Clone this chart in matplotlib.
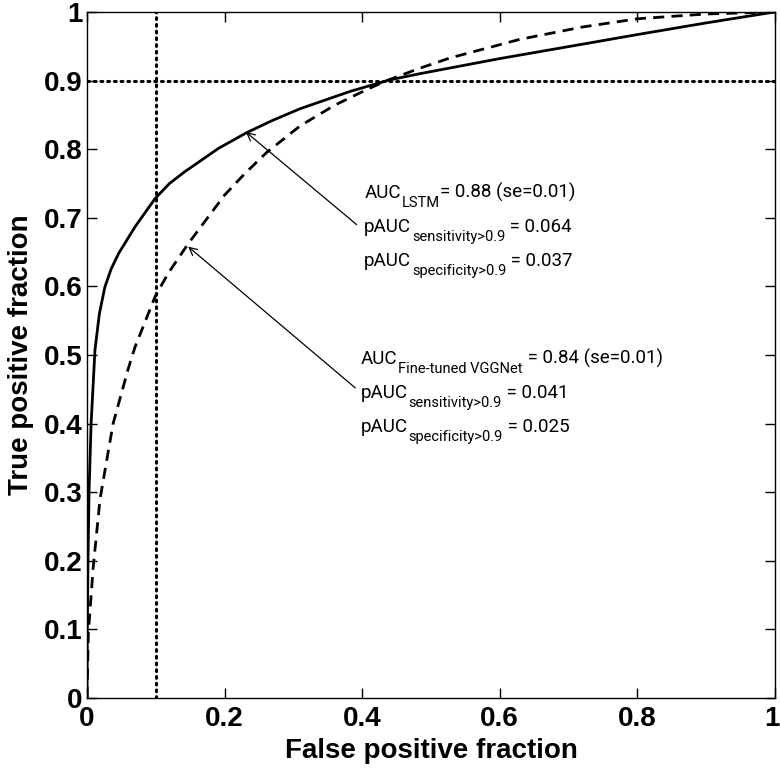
import matplotlib
matplotlib.use("Agg")
import matplotlib.pyplot as plt
import matplotlib.transforms as mtransforms
from matplotlib.transforms import IdentityTransform

# ROC points (false positive fraction, true positive fraction)
lstm_fpf = [0.0, 0.0005, 0.0015, 0.003, 0.006, 0.0116, 0.018, 0.026, 0.035, 0.046, 0.070,
            0.099, 0.12, 0.142, 0.191, 0.232, 0.27, 0.31, 0.382, 0.44, 0.484, 0.6, 0.726,
            0.8, 0.9, 1.0]
lstm_tpf = [0.0, 0.1, 0.2, 0.3, 0.40, 0.507, 0.56, 0.599, 0.625, 0.648, 0.687,
            0.728, 0.75, 0.767, 0.801, 0.824, 0.842, 0.859, 0.884, 0.901, 0.91, 0.932, 0.954,
            0.967, 0.984, 1.0]

vgg_fpf = [0.0, 0.002, 0.009, 0.019, 0.038, 0.06, 0.070, 0.099, 0.118, 0.147, 0.2,
           0.23, 0.261, 0.31, 0.36, 0.407, 0.436, 0.484, 0.528, 0.629, 0.72, 0.8,
           0.9, 1.0]
vgg_tpf = [0.0, 0.095, 0.19, 0.29, 0.40, 0.48, 0.512, 0.585, 0.619, 0.662, 0.733,
           0.765, 0.795, 0.834, 0.864, 0.887, 0.900, 0.918, 0.933, 0.960, 0.978, 0.99,
           0.997, 1.0]

cutoff_fpf = 0.1
cutoff_tpf = 0.9

xtick_labels = ['0', '0.2', '0.4', '0.6', '0.8', '1']
ytick_labels = ['0', '0.1', '0.2', '0.3', '0.4', '0.5', '0.6', '0.7', '0.8', '0.9', '1']

# each line: (main text, subscript, rest)
lstm_text = [("AUC", "LSTM", "= 0.88 (se=0.01)"),
             ("pAUC", "sensitivity>0.9", " = 0.064"),
             ("pAUC", "specificity>0.9", " = 0.037")]
vgg_text = [("AUC", "Fine-tuned VGGNet", " = 0.84 (se=0.01)"),
            ("pAUC", "sensitivity>0.9", " = 0.041"),
            ("pAUC", "specificity>0.9", " = 0.025")]

fig = plt.figure(figsize=(7.8, 7.7), dpi=100)
ax = fig.add_axes([0.1115, 0.0935, 0.882, 0.891])

ax.plot(lstm_fpf, lstm_tpf, color='black', lw=2.0, solid_joinstyle='round')
ax.plot(vgg_fpf, vgg_tpf, color='black', lw=2.0, linestyle=(0, (4, 2.6)))
ax.axvline(cutoff_fpf, color='black', lw=2.2, linestyle=(0, (0.6, 1.6)), dash_capstyle='round')
ax.axhline(cutoff_tpf, color='black', lw=2.2, linestyle=(0, (0.6, 1.6)), dash_capstyle='round')

ax.set_xlim(0, 1)
ax.set_ylim(0, 1)
ax.set_xticks([0, 0.2, 0.4, 0.6, 0.8, 1])
ax.set_xticklabels(xtick_labels)
ax.set_yticks([0, 0.1, 0.2, 0.3, 0.4, 0.5, 0.6, 0.7, 0.8, 0.9, 1])
ax.set_yticklabels(ytick_labels)
ax.tick_params(direction='in', top=True, right=True, length=7, width=1)
ax.tick_params(axis='y', pad=3)
ax.tick_params(axis='x', pad=6)
for lab in ax.get_xticklabels() + ax.get_yticklabels():
    lab.set_fontfamily('Liberation Sans')
    lab.set_fontweight('bold')
    lab.set_fontsize(20)
# keep the last x label inside the figure
last = ax.get_xticklabels()[-1]
last.set_transform(last.get_transform() + mtransforms.ScaledTranslation(-2 / 72, 0, fig.dpi_scale_trans))
for s in ax.spines.values():
    s.set_linewidth(1.0)

ax.set_xlabel("False positive fraction", fontsize=20, fontweight='bold',
              fontfamily='Liberation Sans', labelpad=4)
ax.set_ylabel("True positive fraction", fontsize=20, fontweight='bold',
              fontfamily='Liberation Sans', labelpad=7)

renderer = fig.canvas.get_renderer()


def sub_line(x, y, parts):
    # draw text with a lowered subscript, working in pixels
    px, py = ax.transData.transform((x, y))
    main, sub, rest = parts
    t = fig.text(px, py, main, transform=IdentityTransform(), fontsize=13.5,
                 fontfamily='Roboto', va='baseline')
    px += t.get_window_extent(renderer).width + 1
    t = fig.text(px, py - 9, sub, transform=IdentityTransform(), fontsize=10.5,
                 fontfamily='Roboto', va='baseline')
    px += t.get_window_extent(renderer).width
    fig.text(px, py, rest, transform=IdentityTransform(), fontsize=13.5,
             fontfamily='Roboto', va='baseline')


for i, parts in enumerate(lstm_text):
    sub_line(0.403, 0.729 - i * 0.05, parts)
for i, parts in enumerate(vgg_text):
    sub_line(0.398, 0.487 - i * 0.05, parts)

ax.annotate("", xy=(0.231, 0.825), xytext=(0.392, 0.69),
            arrowprops=dict(arrowstyle='->', color='black', lw=0.9,
                            mutation_scale=14, shrinkA=0, shrinkB=0))
ax.annotate("", xy=(0.147, 0.658), xytext=(0.39, 0.452),
            arrowprops=dict(arrowstyle='->', color='black', lw=0.9,
                            mutation_scale=14, shrinkA=0, shrinkB=0))

fig.savefig("out.png", dpi=100)
